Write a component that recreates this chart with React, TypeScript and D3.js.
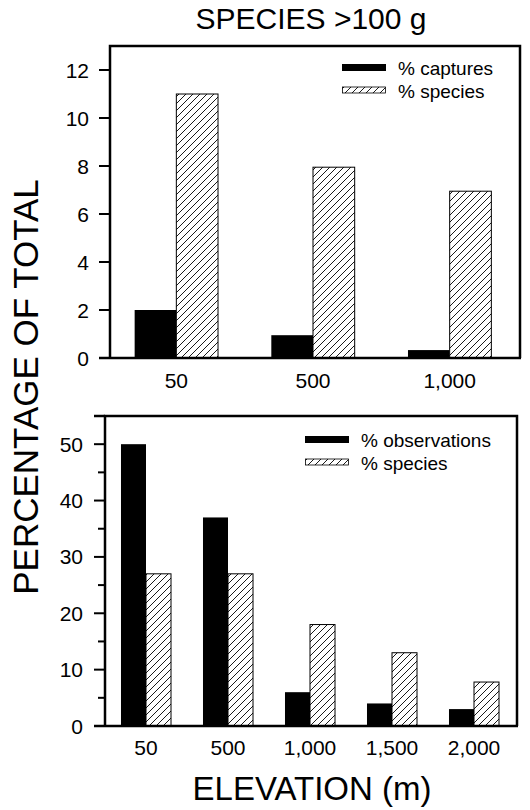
import React, { useRef, useEffect } from 'react';
import * as d3 from 'd3';

// top panel: species > 100 g, captures
const topCats = ['50', '500', '1,000'];
const topCaptures = [2.0, 0.95, 0.33];
const topSpecies = [11, 7.95, 6.95];
const topTicks = [0, 2, 4, 6, 8, 10, 12];

// bottom panel: observations
const botCats = ['50', '500', '1,000', '1,500', '2,000'];
const botObs = [50, 37, 6, 4, 3];
const botSpecies = [27, 27, 18, 13, 7.8];
const botMajor = [0, 10, 20, 30, 40, 50];
const botMinor = [5, 15, 25, 35, 45];

const FONT = '"Liberation Sans", Arial, Helvetica, sans-serif';

const App = () => {
  const svgRef = useRef<SVGSVGElement>(null);

  useEffect(() => {
    const svg = d3.select(svgRef.current);
    svg.selectAll('*').remove();

    const defs = svg.append('defs');
    const pat = defs.append('pattern')
      .attr('id', 'hatch')
      .attr('patternUnits', 'userSpaceOnUse')
      .attr('width', 7)
      .attr('height', 7);
    pat.append('rect').attr('width', 7).attr('height', 7).attr('fill', '#fff');
    pat.append('path')
      .attr('d', 'M-1,8 L8,-1 M-1,1 L1,-1 M6,8 L8,6')
      .attr('stroke', '#000')
      .attr('stroke-width', 0.9);

    const drawPanel = (opts: any) => {
      const { cats, black, hatched, box, bandRange, yMax, major, minor, legendLabels, legendX, legendY, labelRight, tickLen, xLabelY, topExt } = opts;
      const g = svg.append('g');
      const x = d3.scaleBand().domain(cats).range(bandRange).paddingInner(0).paddingOuter(0);
      const y = d3.scaleLinear().domain([0, yMax]).range([box.bottom, box.top]);
      const bw = x.bandwidth() * 0.305;

      // bars
      cats.forEach((c: string, i: number) => {
        const cx = (x(c) as number) + x.bandwidth() / 2;
        g.append('rect')
          .attr('x', cx - bw)
          .attr('y', y(black[i]))
          .attr('width', bw)
          .attr('height', y(0) - y(black[i]))
          .attr('fill', '#000');
        g.append('rect')
          .attr('x', cx)
          .attr('y', y(hatched[i]))
          .attr('width', bw)
          .attr('height', y(0) - y(hatched[i]))
          .attr('fill', 'url(#hatch)')
          .attr('stroke', '#000')
          .attr('stroke-width', 1);
        g.append('text')
          .attr('x', cx)
          .attr('y', xLabelY)
          .attr('text-anchor', 'middle')
          .attr('font-family', FONT)
          .attr('font-size', 21)
          .text(c);
      });

      // frame
      g.append('path')
        .attr('d', `M${box.left},${box.bottom} V${box.top} H${box.right} V${box.bottom}`)
        .attr('fill', 'none')
        .attr('stroke', '#000')
        .attr('stroke-width', 2.5);
      g.append('line')
        .attr('x1', box.left - tickLen).attr('x2', box.right + 1)
        .attr('y1', box.bottom).attr('y2', box.bottom)
        .attr('stroke', '#000').attr('stroke-width', 2.5);
      if (topExt) {
        g.append('line')
          .attr('x1', box.left - tickLen).attr('x2', box.left)
          .attr('y1', box.top).attr('y2', box.top)
          .attr('stroke', '#000').attr('stroke-width', 2.5);
      }

      // y ticks
      major.forEach((v: number) => {
        g.append('line')
          .attr('x1', box.left - tickLen).attr('x2', box.left)
          .attr('y1', y(v)).attr('y2', y(v))
          .attr('stroke', '#000').attr('stroke-width', 2);
        g.append('text')
          .attr('x', labelRight)
          .attr('y', y(v))
          .attr('dy', '0.36em')
          .attr('text-anchor', 'end')
          .attr('font-family', FONT)
          .attr('font-size', 21)
          .text(v);
      });
      minor.forEach((v: number) => {
        g.append('line')
          .attr('x1', box.left - 7).attr('x2', box.left)
          .attr('y1', y(v)).attr('y2', y(v))
          .attr('stroke', '#000').attr('stroke-width', 2);
      });

      // legend
      const lg = g.append('g').attr('transform', `translate(${legendX}, ${legendY})`);
      lg.append('rect').attr('x', 0).attr('y', -4).attr('width', 44).attr('height', 7).attr('fill', '#000');
      lg.append('rect').attr('x', 0.5).attr('y', 19).attr('width', 43).attr('height', 6)
        .attr('fill', 'url(#hatch)').attr('stroke', '#000').attr('stroke-width', 0.8);
      legendLabels.forEach((t: string, i: number) => {
        lg.append('text')
          .attr('x', 56)
          .attr('y', i * 23 + 7)
          .attr('font-family', FONT)
          .attr('font-size', 19)
          .text(t);
      });
    };

    drawPanel({
      cats: topCats, black: topCaptures, hatched: topSpecies,
      box: { left: 110, right: 520, top: 46, bottom: 358 },
      bandRange: [108, 518], yMax: 13, major: topTicks, minor: [],
      legendLabels: ['% captures', '% species'], legendX: 342, legendY: 68,
      labelRight: 89, tickLen: 11, xLabelY: 388, topExt: false,
    });

    drawPanel({
      cats: botCats, black: botObs, hatched: botSpecies,
      box: { left: 105, right: 517, top: 416, bottom: 726 },
      bandRange: [105, 515], yMax: 55, major: botMajor, minor: botMinor,
      legendLabels: ['% observations', '% species'], legendX: 305, legendY: 440,
      labelRight: 83, tickLen: 11, xLabelY: 755, topExt: true,
    });

    svg.append('text')
      .attr('x', 311).attr('y', 29)
      .attr('text-anchor', 'middle')
      .attr('font-family', FONT).attr('font-size', 30)
      .text('SPECIES >100 g');

    svg.append('text')
      .attr('transform', 'translate(38, 387) rotate(-90)')
      .attr('text-anchor', 'middle')
      .attr('font-family', FONT).attr('font-size', 35)
      .text('PERCENTAGE OF TOTAL');

    svg.append('text')
      .attr('x', 312).attr('y', 800)
      .attr('text-anchor', 'middle')
      .attr('font-family', FONT).attr('font-size', 33)
      .text('ELEVATION (m)');
  }, []);

  return (
    <svg ref={svgRef} width={530} height={810}
      style={{ position: 'absolute', left: 0, top: 0, background: '#fff' }} />
  );
};

export default App;
